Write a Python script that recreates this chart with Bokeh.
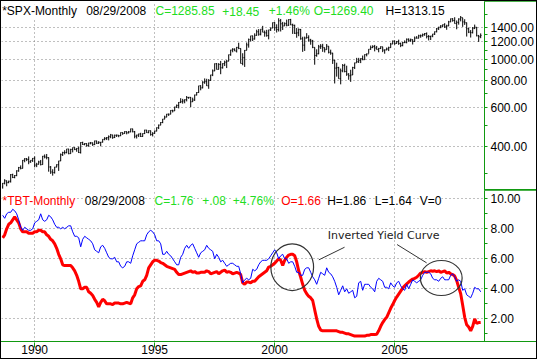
import pandas as pd
from bokeh.plotting import figure
from bokeh.layouts import column, row
from bokeh.models import Range1d, FixedTicker, PrintfTickFormatter, Label, Spacer
from bokeh.embed import file_html
from bokeh.resources import INLINE

# ---------------- data (monthly, Sep 1988 .. Aug 2008) ----------------
first_month = "1988-09"
spx_prev_close = 261.52  # Aug 1988 close (open of first bar)

spx_close = [
    271.91, 278.97, 273.70, 277.72,
    297.47, 288.86, 294.87, 309.64, 320.52, 317.98, 346.08, 351.45, 349.15, 340.36, 345.99, 353.40,
    329.08, 331.89, 339.94, 330.80, 361.23, 358.02, 356.15, 322.56, 306.05, 304.00, 322.22, 330.22,
    343.93, 367.07, 375.22, 375.34, 389.83, 371.16, 387.81, 395.43, 387.86, 392.46, 375.22, 417.09,
    408.79, 412.70, 403.69, 414.95, 415.35, 408.14, 424.21, 414.03, 417.80, 418.68, 431.35, 435.71,
    438.78, 443.38, 451.67, 440.19, 450.19, 450.53, 448.13, 463.56, 458.93, 467.83, 461.79, 466.45,
    481.61, 467.14, 445.77, 450.91, 456.50, 444.27, 458.26, 475.49, 462.69, 472.35, 453.69, 459.27,
    470.42, 487.39, 500.71, 514.71, 533.40, 544.75, 562.06, 561.88, 584.41, 581.50, 605.37, 615.93,
    636.02, 640.43, 645.50, 654.17, 669.12, 670.63, 639.95, 651.99, 687.31, 705.27, 757.02, 740.74,
    786.16, 790.82, 757.12, 801.34, 848.28, 885.14, 954.29, 899.47, 947.28, 914.62, 955.40, 970.43,
    980.28, 1049.34, 1101.75, 1111.75, 1090.82, 1133.84, 1120.67, 957.28, 1017.01, 1098.67, 1163.63, 1229.23,
    1279.64, 1238.33, 1286.37, 1335.18, 1301.84, 1372.71, 1328.72, 1320.41, 1282.71, 1362.93, 1388.91, 1469.25,
    1394.46, 1366.42, 1498.58, 1452.43, 1420.60, 1454.60, 1430.83, 1517.68, 1436.51, 1429.40, 1314.95, 1320.28,
    1366.01, 1239.94, 1160.33, 1249.46, 1255.82, 1224.38, 1211.23, 1133.58, 1040.94, 1059.78, 1139.45, 1148.08,
    1130.20, 1106.73, 1147.39, 1076.92, 1067.14, 989.82, 911.62, 916.07, 815.28, 885.76, 936.31, 879.82,
    855.70, 841.15, 848.18, 916.92, 963.59, 974.50, 990.31, 1008.01, 995.97, 1050.71, 1058.20, 1111.92,
    1131.13, 1144.94, 1126.21, 1107.30, 1120.68, 1140.84, 1101.72, 1104.24, 1114.58, 1130.20, 1173.82, 1211.92,
    1181.27, 1203.60, 1180.59, 1156.85, 1191.50, 1191.33, 1234.18, 1220.33, 1228.81, 1207.01, 1249.48, 1248.29,
    1280.08, 1280.66, 1294.83, 1310.61, 1270.09, 1270.20, 1276.66, 1303.82, 1335.85, 1377.94, 1400.63, 1418.30,
    1438.24, 1406.82, 1420.86, 1482.37, 1530.62, 1503.35, 1455.27, 1473.99, 1526.75, 1549.38, 1481.14, 1468.36,
    1378.55, 1330.63, 1322.70, 1385.59, 1400.38, 1280.00, 1267.40, 1285.85,
]
spx_high = [
    272.6, 283.7, 279.9, 279.4,
    299.5, 300.6, 296.4, 311.6, 322.8, 328.0, 347.0, 354.0, 354.5, 360.4, 346.5, 354.5,
    360.6, 337.0, 344.5, 347.3, 362.3, 368.0, 369.8, 357.0, 325.8, 315.0, 323.0, 332.0,
    344.0, 371.8, 378.5, 384.5, 390.0, 390.0, 390.5, 396.0, 396.5, 393.5, 399.5, 418.5,
    420.8, 414.5, 413.5, 416.5, 419.5, 417.5, 425.5, 425.0, 423.0, 419.0, 432.0, 441.5,
    442.0, 449.5, 456.5, 452.5, 453.5, 453.5, 451.0, 464.0, 463.5, 470.0, 469.0, 471.0,
    482.9, 482.0, 471.0, 453.0, 458.0, 462.0, 459.5, 477.0, 476.0, 474.0, 473.0, 465.0,
    473.0, 489.0, 504.0, 517.0, 534.5, 553.0, 563.5, 565.0, 586.0, 588.5, 608.0, 622.0,
    638.0, 664.5, 660.0, 657.0, 680.0, 673.5, 673.0, 668.5, 690.0, 708.5, 757.0, 761.0,
    794.7, 818.0, 815.0, 812.0, 850.0, 898.5, 957.7, 961.0, 960.5, 983.0, 960.0, 986.0,
    992.5, 1051.0, 1105.5, 1124.0, 1122.0, 1139.0, 1190.5, 1121.5, 1066.0, 1103.0, 1193.0, 1244.0,
    1280.0, 1282.0, 1313.5, 1365.0, 1374.0, 1372.9, 1421.0, 1353.0, 1363.0, 1364.0, 1396.0, 1473.0,
    1478.0, 1444.5, 1553.0, 1528.0, 1481.5, 1474.5, 1517.5, 1525.0, 1530.0, 1454.0, 1438.5, 1389.0,
    1383.5, 1376.5, 1267.5, 1269.3, 1315.9, 1286.6, 1239.8, 1226.0, 1134.0, 1110.6, 1163.4, 1173.0,
    1176.6, 1130.2, 1173.9, 1147.8, 1106.6, 1070.6, 994.5, 965.0, 924.0, 907.4, 951.6, 954.3,
    935.1, 864.6, 895.9, 924.2, 965.4, 1015.3, 1015.4, 1011.0, 1040.3, 1053.8, 1063.7, 1112.6,
    1155.4, 1158.9, 1163.2, 1150.6, 1127.7, 1146.3, 1140.8, 1108.6, 1131.5, 1142.1, 1188.5, 1217.9,
    1217.8, 1212.2, 1229.1, 1191.9, 1199.6, 1219.6, 1245.2, 1245.9, 1243.1, 1233.4, 1270.6, 1275.8,
    1294.9, 1297.6, 1310.9, 1318.2, 1326.7, 1290.7, 1280.4, 1306.7, 1340.3, 1389.5, 1407.9, 1431.8,
    1441.6, 1461.6, 1438.9, 1498.0, 1535.6, 1540.6, 1555.9, 1503.9, 1538.7, 1576.1, 1545.8, 1523.6,
    1471.8, 1396.0, 1359.7, 1404.0, 1440.2, 1404.1, 1292.2, 1313.15,
]
spx_low = [
    256.9, 268.7, 263.4, 272.0,
    273.8, 287.0, 286.4, 292.7, 306.8, 314.5, 317.5, 339.0, 343.0, 332.0, 337.0, 340.0,
    321.4, 322.0, 331.0, 327.8, 330.5, 353.0, 349.5, 307.0, 300.0, 294.5, 301.0, 321.5,
    309.5, 343.0, 362.0, 368.0, 372.0, 368.5, 370.5, 376.0, 385.0, 378.5, 373.5, 371.5,
    406.5, 405.0, 399.5, 399.0, 409.0, 402.5, 406.0, 410.5, 411.0, 401.0, 417.0, 427.0,
    428.0, 426.5, 436.5, 433.5, 437.0, 442.0, 441.0, 446.0, 452.0, 457.5, 454.5, 459.0,
    464.5, 464.0, 436.0, 435.0, 442.0, 442.0, 443.0, 456.0, 461.5, 460.0, 448.0, 444.5,
    457.0, 469.0, 480.5, 500.0, 511.0, 532.5, 544.0, 551.5, 561.0, 572.0, 581.0, 600.0,
    597.0, 631.0, 627.5, 630.0, 642.5, 660.0, 605.0, 638.5, 646.0, 684.0, 703.0, 722.0,
    737.0, 773.0, 756.0, 733.5, 797.0, 838.0, 883.0, 898.0, 899.0, 855.0, 907.0, 931.5,
    912.0, 979.5, 1037.5, 1076.5, 1090.0, 1074.5, 1112.5, 957.3, 939.0, 923.0, 1098.7, 1130.0,
    1205.5, 1212.0, 1229.5, 1281.0, 1281.0, 1286.0, 1328.5, 1268.0, 1268.0, 1233.0, 1347.0, 1387.0,
    1350.0, 1325.0, 1339.0, 1339.5, 1361.0, 1420.0, 1413.5, 1420.5, 1431.0, 1305.8, 1305.0, 1254.0,
    1274.6, 1228.5, 1081.2, 1091.9, 1245.9, 1203.0, 1165.5, 1124.0, 944.8, 1026.8, 1054.3, 1114.9,
    1081.7, 1074.4, 1106.7, 1063.5, 1048.9, 952.9, 775.7, 833.4, 815.0, 768.6, 872.6, 871.8,
    840.3, 806.3, 788.9, 847.8, 902.8, 963.6, 962.1, 960.8, 990.4, 995.3, 1031.2, 1061.5,
    1105.1, 1124.4, 1087.2, 1107.2, 1076.3, 1113.3, 1078.1, 1060.7, 1099.2, 1090.2, 1127.6, 1173.8,
    1163.8, 1180.0, 1163.7, 1136.2, 1146.2, 1188.3, 1183.6, 1201.1, 1201.1, 1168.2, 1201.1, 1246.6,
    1245.7, 1253.6, 1268.4, 1280.7, 1245.3, 1219.3, 1224.5, 1261.0, 1290.9, 1327.1, 1360.9, 1385.9,
    1403.9, 1389.1, 1363.9, 1416.4, 1476.7, 1484.2, 1454.3, 1370.6, 1439.3, 1489.6, 1406.1, 1435.6,
    1270.1, 1316.8, 1256.9, 1312.4, 1373.1, 1272.0, 1200.4, 1248.6,
]
rate_red = [
    7.4, 7.6, 8.0, 8.3,
    8.4, 8.6, 8.8, 8.6, 8.4, 8.0, 7.8, 7.8, 7.8, 7.7, 7.7, 7.7,
    7.8, 7.8, 7.9, 7.9, 7.8, 7.8, 7.6, 7.5, 7.3, 7.2, 7.0, 6.7,
    6.3, 6.0, 5.6, 5.55, 5.55, 5.55, 5.55, 5.4, 5.2, 4.9, 4.5, 4.0,
    4.0, 4.1, 4.1, 3.8, 3.7, 3.55, 3.3, 3.1, 2.8, 3.1, 3.3, 3.2,
    3.0, 3.0, 3.0, 2.95, 3.05, 3.05, 3.05, 3.0, 3.0, 3.05, 3.1, 3.05,
    3.0, 3.4, 3.6, 4.0, 4.15, 4.2, 4.5, 4.6, 4.9, 5.4, 5.6, 5.8,
    5.9, 5.9, 5.85, 5.75, 5.7, 5.6, 5.5, 5.45, 5.4, 5.35, 5.3, 5.1,
    4.95, 4.95, 5.0, 5.05, 5.1, 5.15, 5.2, 5.1, 5.15, 5.05, 5.05, 5.1,
    5.1, 5.1, 5.2, 5.15, 5.0, 5.05, 5.1, 5.15, 5.0, 5.1, 5.2, 5.25,
    5.1, 5.15, 5.1, 5.0, 5.05, 5.1, 5.05, 4.95, 4.4, 4.3, 4.45, 4.45,
    4.4, 4.5, 4.5, 4.65, 4.8, 4.9, 5.0, 5.1, 5.2, 5.45, 5.5, 5.6,
    5.7, 5.85, 6.0, 5.9, 5.55, 5.9, 6.1, 6.25, 6.3, 6.3, 6.2, 5.8,
    5.2, 4.77, 4.3, 3.9, 3.67, 3.5, 3.4, 3.22, 2.6, 2.0, 1.5, 1.25,
    1.2, 1.2, 1.2, 1.2, 1.2, 1.2, 1.2, 1.2, 1.15, 1.1, 1.1, 1.05,
    1.0, 1.0, 0.95, 0.9, 0.85, 0.85, 0.85, 0.85, 0.85, 0.85, 0.9, 0.9,
    0.95, 0.95, 0.95, 0.97, 1.2, 1.5, 1.75, 1.95, 2.1, 2.4, 2.7, 2.95,
    3.22, 3.45, 3.65, 3.85, 4.05, 4.2, 4.33, 4.45, 4.55, 4.65, 4.7, 4.77,
    4.9, 5.05, 5.1, 5.15, 5.1, 5.15, 5.2, 5.17, 5.2, 5.15, 5.2, 5.1,
    5.15, 5.2, 5.05, 5.1, 5.0, 4.95, 4.85, 4.55, 4.1, 3.67, 2.9, 2.1,
    1.6, 1.45, 1.2, 1.5, 2.0, 1.7, 1.75, 1.76,
]
rate_blue = [
    8.9, 8.7, 9.0, 9.1,
    9.1, 9.3, 9.2, 9.0, 8.6, 8.1, 7.9, 8.1, 8.0, 7.9, 7.9, 8.0,
    8.4, 8.5, 8.6, 9.0, 8.6, 8.5, 8.6, 8.9, 8.8, 8.6, 8.3, 8.1,
    8.1, 8.0, 8.1, 8.0, 8.1, 8.2, 8.2, 7.8, 7.5, 7.5, 7.4, 6.8,
    7.3, 7.5, 7.4, 7.3, 7.2, 7.0, 6.6, 6.5, 6.4, 6.8, 6.9, 6.7,
    6.4, 6.1, 6.0, 6.0, 6.1, 5.8, 5.8, 5.5, 5.4, 5.5, 5.8, 5.8,
    5.7, 6.2, 6.6, 7.0, 7.1, 7.2, 7.2, 7.2, 7.6, 7.8, 7.9, 7.8,
    7.6, 7.2, 7.2, 7.0, 6.3, 6.3, 6.5, 6.3, 6.2, 6.0, 5.8, 5.6,
    5.6, 6.1, 6.3, 6.7, 6.9, 6.7, 6.9, 7.0, 6.7, 6.4, 6.1, 6.4,
    6.5, 6.6, 6.9, 6.7, 6.6, 6.5, 6.0, 6.3, 6.1, 5.8, 5.9, 5.7,
    5.5, 5.6, 5.7, 5.7, 5.6, 5.5, 5.5, 5.0, 4.4, 4.6, 4.7, 4.6,
    4.7, 5.3, 5.2, 5.3, 5.6, 5.8, 5.9, 5.9, 5.9, 6.0, 6.2, 6.4,
    6.6, 6.4, 6.0, 6.2, 6.3, 6.0, 6.0, 5.7, 5.8, 5.8, 5.5, 5.1,
    5.1, 4.9, 4.9, 5.3, 5.4, 5.4, 5.1, 4.8, 4.6, 4.3, 4.7, 5.1,
    5.0, 4.9, 5.4, 5.1, 5.0, 4.8, 4.5, 4.1, 3.6, 3.9, 4.2, 3.8,
    4.0, 3.7, 3.8, 3.9, 3.4, 3.5, 4.4, 4.5, 3.9, 4.3, 4.3, 4.3,
    4.1, 4.0, 3.8, 4.5, 4.7, 4.6, 4.5, 4.1, 4.1, 4.0, 4.4, 4.2,
    4.1, 4.4, 4.5, 4.2, 4.0, 3.9, 4.3, 4.0, 4.3, 4.6, 4.5, 4.4,
    4.5, 4.6, 4.9, 5.1, 5.1, 5.1, 5.0, 4.7, 4.6, 4.6, 4.5, 4.7,
    4.8, 4.6, 4.6, 4.6, 4.9, 5.0, 4.8, 4.5, 4.6, 4.5, 3.9, 4.0,
    3.6, 3.5, 3.4, 3.7, 4.1, 4.0, 4.0, 3.8,
]

year_ticks = [1990, 1995, 2000, 2005]
spx_ticks = [400, 600, 800, 1000, 1200, 1400]
spx_minor = [300, 500, 700, 900, 1100, 1300, 1600]
rate_ticks = [2, 4, 6, 8, 10]
rate_minor = [1, 3, 5, 7, 9]

# header values
date_txt = "08/29/2008"
spx_hdr = dict(C=1285.85, chg=18.45, pct=1.46, O=1269.40, H=1313.15)
tbt_hdr = dict(C=1.76, chg=0.08, pct=4.76, O=1.66, H=1.86, L=1.64, V=0)

# annotation (data coordinates: year, rate)
ell_x = [2000.73, 2006.94]
ell_y = [5.44, 4.72]
ell_w = [1.78, 1.74]
ell_h = [3.11, 2.33]
note_x, note_y = 2002.21, 7.55
ptr_x0 = [2002.91, 2005.10]
ptr_y0 = [6.77, 6.95]
ptr_x1 = [2001.84, 2006.33]
ptr_y1 = [5.93, 5.73]

# ---------------- derived ----------------
months = pd.period_range(first_month, periods=len(spx_close), freq="M")
xs = [m.year + (m.month - 1) / 12.0 for m in months]
spx_open = [spx_prev_close] + spx_close[:-1]
dx = 0.4 / 12.0

GREEN_T = "#22dd22"
GREEN_A = "#119911"
GRID = "#808080"
FONT = "Liberation Sans"
FS = "12px"

FRAME_W = 483
AXIS_W = 52
TOP_H = 188
BOT_H = 151
STRIP_H = 16

xr = Range1d(1988.617, 2008.742)
common = dict(output_backend="svg", toolbar_location=None,
              x_range=xr, min_border_left=0, min_border_right=AXIS_W,
              background_fill_color="white", border_fill_color="white")

top = figure(frame_width=FRAME_W, frame_height=TOP_H, y_axis_type="log",
             y_range=Range1d(254.6, 1835.6), y_axis_location="right", x_axis_location=None,
             min_border_top=0, min_border_bottom=0, **common)
bot = figure(frame_width=FRAME_W, frame_height=BOT_H, y_range=Range1d(0.487, 10.553),
             y_axis_location="right", x_axis_location=None,
             min_border_top=0, min_border_bottom=0, **common)
strip = figure(width=FRAME_W + AXIS_W, height=STRIP_H, y_range=Range1d(0, 1),
               x_axis_location="below", y_axis_location=None,
               min_border_top=0, min_border_bottom=STRIP_H - 1, **common)

for f in (top, bot):
    f.outline_line_color = None
    f.xgrid.ticker = FixedTicker(ticks=year_ticks)
    f.xgrid.grid_line_color = GRID
    f.ygrid.grid_line_color = GRID
    f.xgrid.grid_line_dash = "1 3"
    f.ygrid.grid_line_dash = "1 3"
    f.xgrid.grid_line_width = 1
    f.ygrid.grid_line_width = 1
    ax = f.yaxis[0]
    ax.axis_line_color = GREEN_A
    ax.major_tick_line_color = GREEN_A
    ax.minor_tick_line_color = GREEN_A
    ax.major_tick_in = 0
    ax.major_tick_out = 3
    ax.minor_tick_in = 0
    ax.minor_tick_out = 3
    ax.major_label_standoff = 3
    ax.major_label_text_font = FONT
    ax.major_label_text_font_size = FS
    ax.major_label_text_color = "black"
    ax.formatter = PrintfTickFormatter(format="%.2f")

top.yaxis[0].ticker = FixedTicker(ticks=spx_ticks, minor_ticks=spx_minor)
bot.yaxis[0].ticker = FixedTicker(ticks=rate_ticks, minor_ticks=rate_minor)

strip.outline_line_color = None
strip.grid.visible = False
xa = strip.xaxis[0]
xa.ticker = FixedTicker(ticks=year_ticks, minor_ticks=[])
xa.axis_line_color = None
xa.major_tick_line_color = GREEN_A
xa.major_tick_in = 1
xa.major_tick_out = 4
xa.major_label_standoff = -3
xa.major_label_text_align = "left"
xa.major_label_text_font = FONT
xa.major_label_text_font_size = FS
xa.major_label_text_color = "black"

# ---- SPX monthly OHLC bars ----
xl = [x - dx for x in xs]
xrr = [x + dx for x in xs]
top.segment(x0=xs, y0=spx_low, x1=xs, y1=spx_high, line_color="black", line_width=1)
top.segment(x0=xl, y0=spx_open, x1=xs, y1=spx_open, line_color="black", line_width=1)
top.segment(x0=xs, y0=spx_close, x1=xrr, y1=spx_close, line_color="black", line_width=1)

# ---- rates ----
bot.line(xs, rate_red, line_color="#ff0000", line_width=3)
bot.line(xs, rate_blue, line_color="#0000ff", line_width=1)

bot.ellipse(x=ell_x, y=ell_y, width=ell_w, height=ell_h, fill_color=None,
            line_color="#333333", line_width=1.2)
bot.segment(x0=ptr_x0, y0=ptr_y0, x1=ptr_x1, y1=ptr_y1, line_color="#333333", line_width=1)
bot.add_layout(Label(x=note_x, y=note_y, text="Inverted Yield Curve", text_font="DejaVu Sans",
                     text_font_size="11px", text_baseline="middle", text_color="#222222"))

# ---- header texts (x from frame left, baseline from frame bottom) ----
top_items = [
    ("*SPX-Monthly", "black", 0.7),
    (date_txt, "black", 84.7),
    ("C=%.2f" % spx_hdr["C"], GREEN_T, 154.0),
    ("+%.2f" % spx_hdr["chg"], GREEN_T, 220.7),
    ("+%.2f%%" % spx_hdr["pct"], GREEN_T, 267.3),
    ("O=%.2f" % spx_hdr["O"], GREEN_T, 312.3),
    ("H=%.2f" % spx_hdr["H"], "black", 384.0),
]
bot_items = [
    ("*TBT-Monthly", "#ff0000", 1.0),
    (date_txt, "black", 83.3),
    ("C=%.2f" % tbt_hdr["C"], GREEN_T, 153.0),
    ("+.%02d" % round(tbt_hdr["chg"] * 100), GREEN_T, 200.7),
    ("+%.2f%%" % tbt_hdr["pct"], GREEN_T, 231.3),
    ("O=%.2f" % tbt_hdr["O"], "#ff0000", 279.7),
    ("H=%.2f" % tbt_hdr["H"], "black", 325.7),
    ("L=%.2f" % tbt_hdr["L"], "black", 373.3),
    ("V=%d" % tbt_hdr["V"], "black", 418.3),
]
for f, items, yb in ((top, top_items, TOP_H - 9.7), (bot, bot_items, BOT_H - 10.0)):
    for txt, col, x in items:
        f.add_layout(Label(x=x, y=yb, x_units="screen", y_units="screen", text=txt,
                           text_font=FONT, text_font_size=FS, text_color=col,
                           text_baseline="alphabetic", background_fill_color="white"))

# ---- layout: 1px gaps give the green separators and the black frame ----
panels = column(top, bot, spacing=1,
                styles={"background": "linear-gradient(to right, white %dpx, %s %dpx)"
                        % (FRAME_W, GREEN_A, FRAME_W)})
core = column(panels, strip, spacing=1,
              styles={"background": "linear-gradient(to bottom, %s %dpx, white %dpx)"
                      % (GREEN_A, TOP_H + BOT_H + 2, TOP_H + BOT_H + 2)})
mid = row(Spacer(width=0, height=0), core, Spacer(width=0, height=0), spacing=1,
          styles={"background": "black"})
layout = column(Spacer(width=0, height=0), mid, Spacer(width=0, height=0), spacing=1,
                styles={"background": "black"})

open("out.html", "w").write(file_html(layout, INLINE))
